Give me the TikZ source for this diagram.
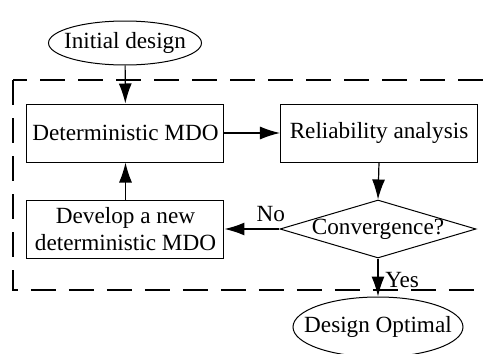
\documentclass[tikz,border=0pt]{standalone}
\usepackage{fontspec}
\setmainfont{Liberation Serif}
\usetikzlibrary{arrows.meta,shapes.geometric}

\begin{document}
\begin{tikzpicture}[x=0.5pt,y=-0.5pt,->,>={Latex[length=10pt,width=6.5pt]},
line width=0.6pt,font=\fontsize{11.6}{13.5}\selectfont,
block/.style={rectangle,draw,line width=0.5pt,minimum width=98.5pt,
minimum height=29pt,align=center,inner sep=0pt},
term/.style={ellipse,draw,line width=0.5pt,inner xsep=-10pt,inner ysep=0pt},
test/.style={diamond,draw,line width=0.5pt,aspect=3.38,minimum width=98pt,
minimum height=29pt,inner xsep=-2pt,inner ysep=0pt}]

    \clip (0,0) rectangle (484,354);

    % loop region
    \draw[-,dash pattern=on 12.5pt off 6.5pt,line width=0.75pt]
(13,80) rectangle (494,290);

    \node[term,minimum width=76.5pt,minimum height=22pt] (init) at (125,43)
{Initial design}; \node[block] (det) at (125.5,133) {Deterministic MDO};
\node[block] (rel) at (379,133) {Reliability analysis};
\node[test] (conv) at (378,229) {Convergence?};
\node[block] (dev) at (125.5,229) {Develop a new\\deterministic MDO};
\node[term,minimum width=85pt,minimum height=30pt] (opt) at (378,327)
{Design Optimal};

    \path (init) edge (det) (det) edge (rel) (rel.south) edge
(conv.north) (conv) edge node[above,pos=0.16] {No} (dev) (dev) edge
(det) (conv) edge node[right,pos=0.56] {Yes} (opt);
\end{tikzpicture}
\end{document}
